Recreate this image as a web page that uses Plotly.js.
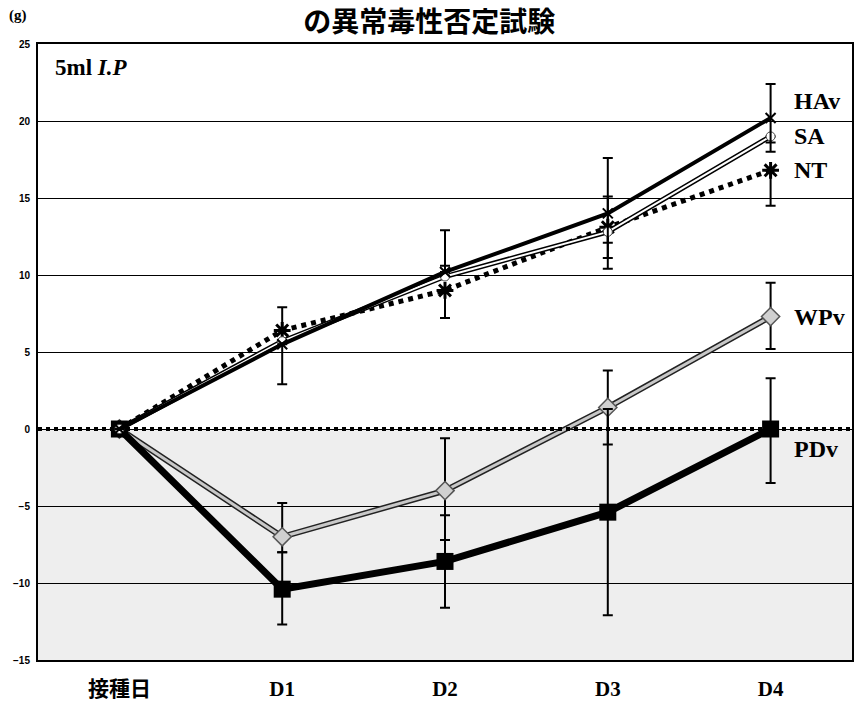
<!DOCTYPE html>
<html><head><meta charset="utf-8">
<script src="https://cdn.plot.ly/plotly-3.0.1.min.js"></script>
<style>html,body{margin:0;padding:0;background:#fff}#c{width:855px;height:703px}</style>
</head><body><div id="c"></div>
<script>
const days = ['接種日','D1','D2','D3','D4'];
const yTicks = [-15,-10,-5,0,5,10,15,20,25];
const HAv = [0, 5.5, 10.2, 14.0, 20.2];
const HAvErrPlus = [0, 0, 2.7, 3.6, 2.2];
const HAvErrMinus = [0, 2.6, 0, 3.6, 2.2];
const SA = [0, 5.7, 9.9, 12.8, 19.0];
const SAErrPlus = [0, 0, 0.7, 0, 0];
const SAErrMinus = [0, 0, 0, 0.7, 0.4];
const NT = [0, 6.4, 9.0, 13.1, 16.8];
const NTErrPlus = [0, 1.5, 0, 2.0, 0];
const NTErrMinus = [0, 0, 1.8, 2.0, 2.3];
const WPv = [0, -7.0, -4.0, 1.4, 7.3];
const WPvErrPlus = [0, 2.2, 3.4, 2.4, 2.2];
const WPvErrMinus = [0, 1.0, 3.2, 2.4, 2.1];
const PDv = [0, -10.4, -8.6, -5.4, 0.0];
const PDvErrPlus = [0, 2.4, 3.0, 6.7, 3.3];
const PDvErrMinus = [0, 2.3, 3.0, 6.7, 3.5];
const seriesNames = ['HAv','SA','NT','WPv','PDv'];

function err(p, m){ return {type:'data', symmetric:false, array:p, arrayminus:m, visible:true, color:'#000', thickness:2, width:5}; }

const traces = [
  {x:days, y:WPv, mode:'lines', line:{color:'#222', width:6}, hoverinfo:'skip', showlegend:false,
   error_y: err(WPvErrPlus, WPvErrMinus)},
  {x:days, y:WPv, mode:'lines+markers', name:'WPv', line:{color:'#c8c8c8', width:3},
   marker:{symbol:'diamond', size:14, color:'#d0d0d0', line:{color:'#555', width:1.5}}},
  {x:days, y:PDv, mode:'lines+markers', name:'PDv', line:{color:'#000', width:7},
   marker:{symbol:'square', size:17, color:'#000'}, error_y: err(PDvErrPlus, PDvErrMinus)},
  {x:days, y:NT, mode:'lines+markers', name:'NT', line:{color:'#000', width:5, dash:'dot'},
   marker:{symbol:'asterisk-open', size:14, line:{color:'#000', width:3}}, error_y: err(NTErrPlus, NTErrMinus)},
  {x:days, y:SA, mode:'lines', line:{color:'#000', width:5}, hoverinfo:'skip', showlegend:false,
   error_y: err(SAErrPlus, SAErrMinus)},
  {x:days, y:SA, mode:'lines+markers', name:'SA', line:{color:'#fff', width:2},
   marker:{symbol:'circle', size:9, color:'#fff', line:{color:'#444', width:1}}},
  {x:days, y:HAv, mode:'lines+markers', name:'HAv', line:{color:'#000', width:4},
   marker:{symbol:'x-thin-open', size:10, line:{color:'#000', width:2}}, error_y: err(HAvErrPlus, HAvErrMinus)}
];

const labelY = [21.3, 19.0, 16.8, 7.3, -1.3];
const annotations = seriesNames.map((n,i)=>({
  x:'D4', y:labelY[i], xref:'x', yref:'y', text:n, showarrow:false, xanchor:'left', xshift:21,
  font:{family:'Liberation Serif, serif', size:24, color:'#000', weight:'bold'}
}));
annotations.push({x:0, y:1, xref:'paper', yref:'paper', xanchor:'left', yanchor:'top', xshift:15, yshift:-9,
  text:'<b>5ml <i>I.P</i></b>', showarrow:false, font:{family:'Liberation Serif, serif', size:23, color:'#000'}});
annotations.push({x:0, y:1, xref:'paper', yref:'paper', xanchor:'center', yanchor:'bottom', xshift:-20, yshift:18,
  text:'<b>(g)</b>', showarrow:false, font:{family:'Liberation Serif, serif', size:15, color:'#000'}});

const layout = {
  width:855, height:703,
  margin:{l:38, r:3, t:44, b:43},
  paper_bgcolor:'#fff', plot_bgcolor:'#fff',
  showlegend:false,
  title:{text:'<b>の異常毒性否定試験</b>', x:0.502, xanchor:'center', y:0.969, yanchor:'middle',
    font:{family:'Noto Sans CJK JP, sans-serif', size:28, color:'#000'}},
  xaxis:{type:'category', range:[-0.5,4.5], showgrid:false, zeroline:false, showline:true, mirror:true,
    linecolor:'#000', linewidth:2, ticks:'outside', ticklen:9, tickcolor:'rgba(0,0,0,0)',
    tickfont:{family:'Liberation Serif, Noto Sans CJK JP, serif', size:21, color:'#000', weight:'bold'}},
  yaxis:{range:[-15,25], tickvals:yTicks, showgrid:true, gridcolor:'#000', gridwidth:1, zeroline:false,
    showline:true, mirror:true, linecolor:'#000', linewidth:2, ticks:'', ticklabelstandoff:4,
    tickfont:{family:'Liberation Sans, sans-serif', size:10, color:'#000', weight:'bold'}},
  shapes:[
    {type:'rect', xref:'paper', yref:'y', x0:0, x1:1, y0:-15, y1:0, fillcolor:'rgba(120,120,120,0.13)', line:{width:0}, layer:'below'},
    {type:'line', xref:'paper', yref:'y', x0:0, x1:1, y0:0, y1:0, line:{color:'#000', width:4, dash:'dot'}, layer:'above'}
  ],
  annotations: annotations
};
Plotly.newPlot('c', traces, layout, {displayModeBar:false, staticPlot:true});
</script></body></html>
